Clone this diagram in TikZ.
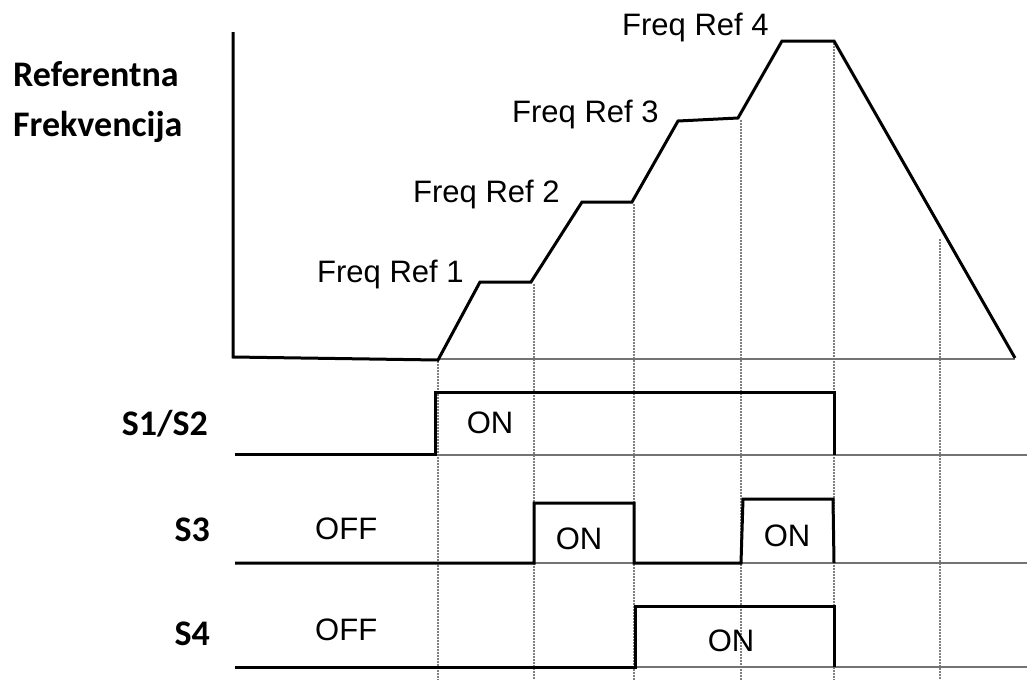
\documentclass[tikz,border=0pt]{standalone}
\usepackage{fontspec}
\setmainfont{Liberation Sans}
\newfontfamily\calfont{Carlito}
\begin{document}
\begin{tikzpicture}[x=1pt,y=-1pt,
  sig/.style={line width=3pt, line join=miter, black},
  base/.style={line width=1.5pt, color=black!55},
  guide/.style={line width=1.4pt, color=black!50, dash pattern=on 1.5pt off 1.5pt},
  arlab/.style={font=\fontsize{31}{31}\selectfont, inner sep=0pt},
  boldlab/.style={font=\calfont\bfseries\fontsize{36}{36}\selectfont, inner sep=0pt}]
\useasboundingbox (0,0) rectangle (1027,680);
% guide lines
\draw[guide] (438,361) -- (438,680);
\draw[guide] (534,284) -- (534,680);
\draw[guide] (634,204) -- (634,680);
\draw[guide] (741,120) -- (741,680);
\draw[guide] (834,43) -- (834,680);
\draw[guide] (940,239) -- (940,680);
% thin baselines
\draw[base] (438,359) -- (1015,359);
\draw[base] (235,455) -- (1027,455);
\draw[base] (235,563) -- (1027,563);
\draw[base] (235,667) -- (1027,667);
% signals
\draw[sig] (233,32) -- (233,357) -- (438,360) -- (480,282) -- (531,282) -- (582,202) -- (632,202) -- (678,121) -- (738,118) -- (782,41) -- (834,41) -- (1015,358);
\draw[sig] (235,454) -- (435,454) -- (435,392) -- (834,392) -- (834,455);
\draw[sig] (235,563) -- (534,563) -- (534,503) -- (634,503) -- (634,563) -- (741,563) -- (743,499) -- (833,499) -- (834,563);
\draw[sig] (235,667) -- (635,667) -- (635,606) -- (834,606) -- (834,667);
% labels
\node[arlab, anchor=base west] (f1) at (317,282) {Freq Ref 1};
\node[arlab, anchor=base west] (f2) at (413,202) {Freq Ref 2};
\node[arlab, anchor=base west] (f3) at (512,122) {Freq Ref 3};
\node[arlab, anchor=base west] (f4) at (622,35) {Freq Ref 4};
\node[arlab, anchor=base] (on1) at (490,433) {ON};
\node[arlab, anchor=base] (on2) at (579,549) {ON};
\node[arlab, anchor=base] (on3) at (787,546) {ON};
\node[arlab, anchor=base] (on4) at (731,651) {ON};
\node[arlab, anchor=base west] (off3) at (315,539) {OFF};
\node[arlab, anchor=base west] (off4) at (315,640) {OFF};
\node[boldlab, anchor=base west] (ref) at (13,86) {Referentna};
\node[boldlab, anchor=base west] (frek) at (13,136) {Frekvencija};
\node[boldlab, anchor=base east] (s12) at (208,435) {S1/S2};
\node[boldlab, anchor=base east] (s3) at (210,541) {S3};
\node[boldlab, anchor=base east] (s4) at (210,645) {S4};
\end{tikzpicture}
\end{document}
